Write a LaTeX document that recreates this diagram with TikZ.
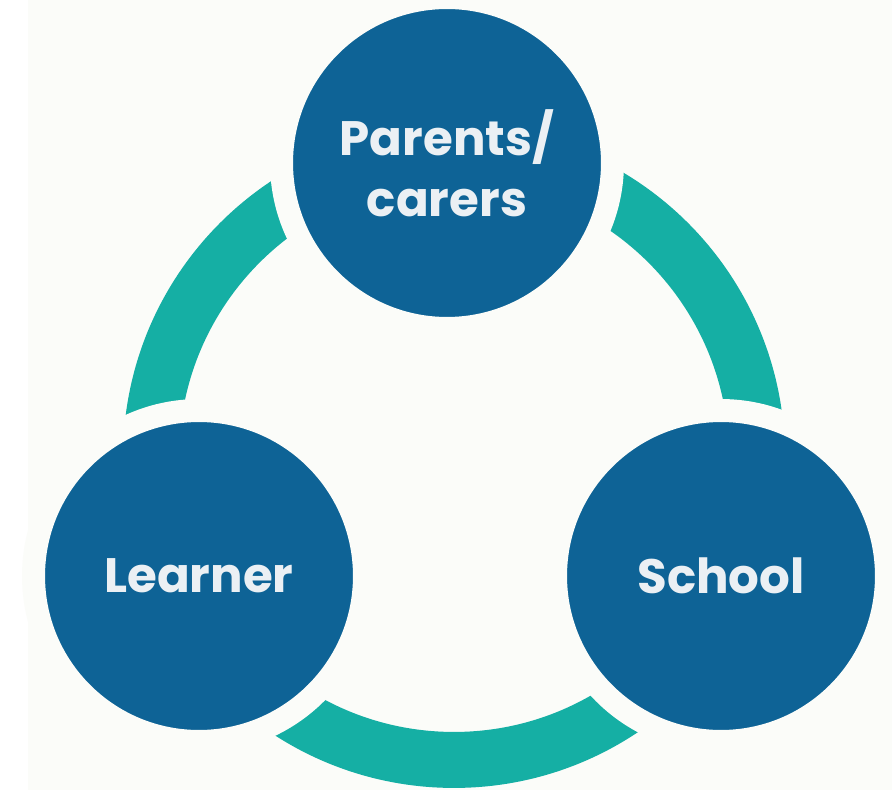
\documentclass[tikz,border=0pt]{standalone}
\usepackage{fontspec}
\setsansfont{Poppins}
\usetikzlibrary{positioning}
\definecolor{hubblue}{HTML}{0E6396}
\definecolor{ringteal}{HTML}{15AFA4}
\definecolor{paper}{HTML}{FBFCF9}
\definecolor{labelwhite}{HTML}{EBF0F4}
\tikzset{
  base/.style={align=center, font=\sffamily\bfseries\fontsize{27.5}{35}\selectfont, text=labelwhite},
  party/.style={base, circle, fill=hubblue, draw=paper, line width=0.46cm, minimum size=6.62cm, inner sep=0pt},
  ring/.style={draw=ringteal, line width=1.12cm}
}

\begin{document}
\begin{tikzpicture}[x=0.02cm, y=-0.02cm]
  % Background
  \fill[white] (0,0) rectangle (892,790);
  \fill[paper] (28,0) rectangle (892,790);
  \useasboundingbox (0,0) rectangle (892,790);

  % Ring behind the circles
  \coordinate (hub) at (454,457);
  \draw[ring] (hub) circle[radius=6.06cm];

  % The three parties
  \node[party] (parents) at (447,163) {Parents/\\carers};
  \node[party] (learner) at (199,576) {Learner};
  \node[party] (school) at (721,576) {School};

\end{tikzpicture}
\end{document}
